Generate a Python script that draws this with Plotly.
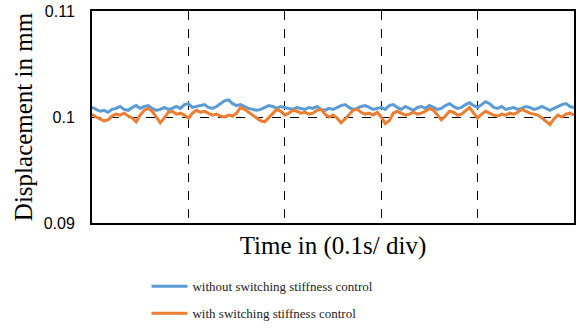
import plotly.graph_objects as go

without_ctrl = [
    0.10090, 0.10072, 0.10054, 0.10063, 0.10045, 0.10072, 0.10081, 0.10099, 0.10072, 0.10063,
    0.10090, 0.10108, 0.10081, 0.10099, 0.10108, 0.10081, 0.10063, 0.10072, 0.10090, 0.10072,
    0.10081, 0.10099, 0.10081, 0.10117, 0.10126, 0.10090, 0.10099, 0.10108, 0.10117, 0.10090,
    0.10081, 0.10099, 0.10126, 0.10153, 0.10162, 0.10126, 0.10108, 0.10117, 0.10099, 0.10081,
    0.10072, 0.10063, 0.10072, 0.10090, 0.10108, 0.10099, 0.10081, 0.10099, 0.10090, 0.10081,
    0.10072, 0.10090, 0.10081, 0.10072, 0.10090, 0.10081, 0.10099, 0.10072, 0.10063, 0.10081,
    0.10072, 0.10090, 0.10108, 0.10117, 0.10090, 0.10072, 0.10081, 0.10099, 0.10108, 0.10090,
    0.10072, 0.10081, 0.10090, 0.10072, 0.10108, 0.10117, 0.10090, 0.10072, 0.10099, 0.10081,
    0.10063, 0.10090, 0.10099, 0.10081, 0.10108, 0.10090, 0.10072, 0.10081, 0.10108, 0.10126,
    0.10099, 0.10081, 0.10090, 0.10117, 0.10135, 0.10108, 0.10090, 0.10117, 0.10144, 0.10126,
    0.10090, 0.10081, 0.10099, 0.10072, 0.10081, 0.10090, 0.10072, 0.10081, 0.10099, 0.10090,
    0.10072, 0.10081, 0.10099, 0.10081, 0.10063, 0.10081, 0.10099, 0.10117, 0.10126, 0.10099,
    0.10090,
]

with_ctrl = [
    0.10027, 0.10000, 0.09982, 0.09964, 0.09973, 0.10009, 0.10027, 0.10018, 0.10036, 0.10009,
    0.09991, 0.09955, 0.10018, 0.10063, 0.10081, 0.10054, 0.10000, 0.09946, 0.09991, 0.10045,
    0.10054, 0.10027, 0.10036, 0.10018, 0.09991, 0.10036, 0.10063, 0.10045, 0.10054, 0.10036,
    0.10018, 0.10027, 0.10009, 0.10000, 0.10018, 0.10009, 0.10036, 0.10090, 0.10072, 0.10045,
    0.10018, 0.09991, 0.09964, 0.09955, 0.09991, 0.10036, 0.10072, 0.10054, 0.10018, 0.10036,
    0.10063, 0.10054, 0.10036, 0.10045, 0.10027, 0.10036, 0.10063, 0.10072, 0.10027, 0.10000,
    0.10018, 0.09991, 0.09946, 0.09982, 0.10027, 0.10063, 0.10072, 0.10045, 0.10027, 0.10036,
    0.10018, 0.10045, 0.10000, 0.09937, 0.09964, 0.10036, 0.10054, 0.10036, 0.10018, 0.10027,
    0.10045, 0.10027, 0.10036, 0.10054, 0.10081, 0.10063, 0.10018, 0.09973, 0.10009, 0.10054,
    0.10045, 0.10018, 0.10027, 0.10063, 0.10090, 0.10036, 0.09991, 0.10027, 0.10054, 0.10036,
    0.10018, 0.10009, 0.10027, 0.10018, 0.10036, 0.10027, 0.10045, 0.10072, 0.10054, 0.10036,
    0.10027, 0.10018, 0.09991, 0.09955, 0.09928, 0.09982, 0.10018, 0.10000, 0.10027, 0.10036,
    0.10018,
]

series_names = ["without switching stiffness control", "with switching stiffness control"]
series_colors = ["#5B9BD5", "#ED7D31"]
y_tick_vals = [0.09, 0.10, 0.11]
y_tick_text = ["0.09", "0.1", "0.11"]
t_end = 0.5

def times(n):
    return [i * t_end / (n - 1) for i in range(n)]

fig = go.Figure()
for name, vals, col, grp in zip(series_names, [without_ctrl, with_ctrl], series_colors, ["a", "b"]):
    fig.add_trace(go.Scatter(x=times(len(vals)), y=vals, mode="lines", name=name,
                             legendgroup=grp,
                             line=dict(color=col, width=3)))

serif = "Liberation Serif, Times New Roman, serif"

fig.update_layout(
    width=579, height=333,
    margin=dict(l=92, r=5, t=11, b=104),
    plot_bgcolor="white", paper_bgcolor="white",
    showlegend=True,
    legend=dict(x=0.113, y=-0.228, xanchor="left", yanchor="top", itemwidth=36,
                font=dict(family=serif, size=13, color="#222"),
                tracegroupgap=7, traceorder="grouped", bgcolor="rgba(0,0,0,0)"),
    xaxis=dict(range=[0, t_end], dtick=0.1, tick0=0, showticklabels=False, ticks="",
               automargin=False,
               showgrid=True, gridcolor="black", griddash="dash", gridwidth=1,
               zeroline=False, showline=True, linecolor="black", linewidth=2, mirror=True,
               title=dict(text="Time in (0.1s/ div)", standoff=12,
                          font=dict(family=serif, size=25, color="black"))),
    yaxis=dict(range=[0.09, 0.11], tickvals=y_tick_vals, ticktext=y_tick_text, ticks="",
               automargin=False, ticklabelstandoff=12, ticklabeloverflow="allow",
               showgrid=True, gridcolor="black", griddash="dash", gridwidth=1,
               zeroline=False, showline=True, linecolor="black", linewidth=2, mirror=True,
               tickfont=dict(family="Liberation Sans", size=16, color="black"),
               title=dict(text="Displacement in mm", standoff=4,
                          font=dict(family=serif, size=25, color="black"))),
)

fig.write_html("out.html", config={"displayModeBar": False},
               post_script="document.body.style.margin='0';")
